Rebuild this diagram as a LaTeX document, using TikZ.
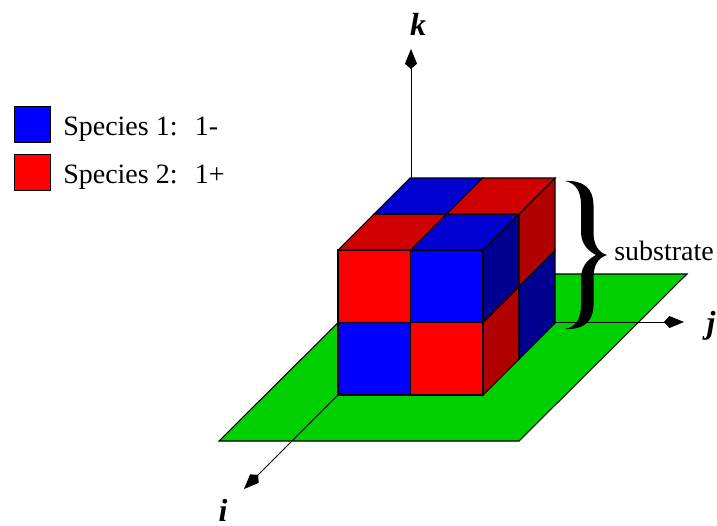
\documentclass[tikz,border=0pt]{standalone}
\usepackage{fontspec}
\setmainfont{Liberation Serif}
\usetikzlibrary{arrows.meta, positioning}
\definecolor{planegreen}{RGB}{0,208,0}
\definecolor{topblue}{RGB}{0,0,208}
\definecolor{topred}{RGB}{208,0,0}
\definecolor{sideblue}{RGB}{0,0,144}
\definecolor{sidered}{RGB}{176,0,0}
\tikzset{
  face/.style={draw=black, line width=0.8pt, line join=miter},
  swatch/.style={rectangle, draw=black, line width=0.8pt, minimum size=27pt, inner sep=0pt},
  axis/.style={-{Kite[length=15pt, width=9pt, inset=4pt]}, line width=0.6pt},
  legendtext/.style={font=\fontsize{21}{24}\selectfont, inner sep=0pt},
  axislabel/.style={font=\fontsize{24}{28}\selectfont\bfseries\itshape, inner sep=0pt, anchor=base},
}
\begin{document}
\begin{tikzpicture}[x=0.75pt, y=-0.75pt]
\useasboundingbox (0,0) rectangle (717,525);
% substrate plane
\draw[face, fill=planegreen] (219,441) -- (519,441) -- (687,274) -- (387,274) -- cycle;
% axes
\coordinate (backtop) at (411,178);
\coordinate (backright) at (555,322);
\coordinate (frontleft) at (338,395);
\coordinate (ktip) at (411,49);
\coordinate (jtip) at (684,322);
\coordinate (itip) at (244,489);
\draw[axis] (backtop) -- (ktip);
\draw[axis] (backright) -- (jtip);
\draw[axis] (frontleft) -- (itip);
\node (klabel) [axislabel] at (418,35) {k};
\node (jlabel) [axislabel] at (711,333) {j};
\node (ilabel) [axislabel] at (223,521) {i};
% cube
\foreach \x/\y/\c in {338/250/red, 410.5/250/blue, 338/322.5/blue, 410.5/322.5/red}
  \filldraw[face, fill=\c] (\x,\y) rectangle ++(72.5,72.5);
\foreach \x/\y/\c in {338/250/topred, 410.5/250/topblue, 374/214/topblue, 446.5/214/topred}
  \filldraw[face, fill=\c] (\x,\y) -- ++(72.5,0) -- ++(36,-36) -- ++(-72.5,0) -- cycle;
\foreach \x/\y/\c in {483/250/sideblue, 519/214/sidered, 483/322.5/sidered, 519/286.5/sideblue}
  \filldraw[face, fill=\c] (\x,\y) -- ++(36,-36) -- ++(0,72.5) -- ++(-36,36) -- cycle;
% brace
\fill[black] (565,181) .. controls (585,180) and (593.5,190) .. (593.5,205) -- (593.5,232)
  .. controls (593.5,245) and (598,252) .. (607,255) .. controls (598,258) and (593.5,265) .. (593.5,278)
  -- (593.5,305) .. controls (593.5,320) and (585,330) .. (565,329) .. controls (575,327) and (581,320) .. (581,305)
  -- (581,278) .. controls (581,265) and (590,258) .. (596,255) .. controls (590,252) and (581,245) .. (581,232)
  -- (581,205) .. controls (581,190) and (575,183) .. (565,181) -- cycle;
\node (sub) [legendtext, anchor=base west] at (614,260) {substrate};
% legend
\node (spone) [swatch, fill=blue] at (32.5,124.5) {};
\node (sptwo) [swatch, fill=red] at (32.5,172.5) {};
\node (sponetext) [legendtext, anchor=base west] at (63,135) {Species 1:\hspace{13pt}1-};
\node (sptwotext) [legendtext, anchor=base west] at (63,183) {Species 2:\hspace{13pt}1+};
\end{tikzpicture}
\end{document}
